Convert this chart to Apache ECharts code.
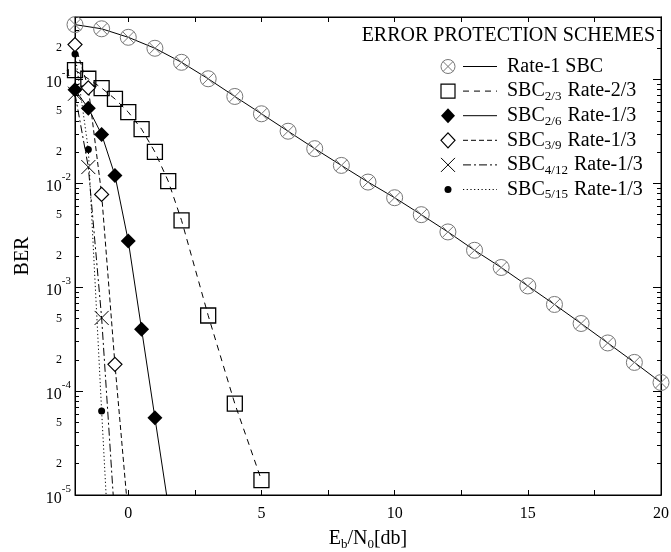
<!DOCTYPE html>
<html>
<head>
<meta charset="utf-8">
<script src="https://cdn.jsdelivr.net/npm/echarts@6/dist/echarts.min.js"></script>
<style>
  html, body { margin: 0; padding: 0; background: #fff; }
  #chart { width: 671px; height: 552px; }
</style>
</head>
<body>
<div id="chart"></div>
<script>
const FONT = '"Liberation Serif", "Times New Roman", serif';

// Eb/N0 [dB] and BER values
const ebn0Rate1 = [-2, -1, 0, 1, 2, 3, 4, 5, 6, 7, 8, 9, 10, 11, 12, 13, 14, 15, 16, 17, 18, 19, 20];
const berRate1 = [0.338, 0.308, 0.255, 0.200, 0.1465, 0.1017, 0.0687, 0.0468, 0.0318, 0.0216, 0.0149, 0.0103,
  0.00728, 0.00500, 0.00341, 0.00227, 0.00155, 0.00103, 0.000683, 0.000448, 0.000291, 0.000189, 0.000121];

const ebn0Sbc23 = [-2, -1.5, -1, -0.5, 0, 0.5, 1, 1.5, 2, 3, 4, 5];
const berSbc23 = [0.123, 0.1017, 0.0828, 0.0651, 0.0486, 0.0333, 0.0201, 0.01052, 0.00441, 0.000535, 0.0000757, 0.0000139];

const ebn0Sbc26 = [-2, -1.5, -1, -0.5, 0, 0.5, 1, 1.5];
const berSbc26 = [0.0796, 0.0530, 0.0296, 0.01194, 0.00279, 0.000394, 0.0000554, 0.0000079];

const ebn0Sbc39 = [-2, -1.5, -1, -0.5, 0];
const berSbc39 = [0.217, 0.0832, 0.00783, 0.000181, 0.0000063];

const ebn0Sbc412 = [-2, -1.5, -1, -0.5];
const berSbc412 = [0.0730, 0.01436, 0.000507, 0.0000055];

const ebn0Sbc515 = [-2, -1.5, -1, -0.5];
const berSbc515 = [0.1766, 0.0212, 0.0000643, 0.00000025];

// axis ticks / labels
const xLabelValues = [0, 5, 10, 15, 20];
const xTickValues = [0, 2.5, 5, 7.5, 10, 12.5, 15, 17.5];
const yDecades = [1e-5, 1e-4, 1e-3, 1e-2, 1e-1];
const yMinorLabelValues = [2e-5, 5e-5, 2e-4, 5e-4, 2e-3, 5e-3, 2e-2, 5e-2, 2e-1];
const yMinorTicks = [];
yDecades.forEach(d => {
  for (let k = 2; k <= 9; k++) {
    if (k * d < 0.4) yMinorTicks.push(k * d);
  }
});

// legend
const legendTitle = 'ERROR PROTECTION SCHEMES';
const legendLabels = [
  '{n|Rate-1 SBC}',
  '{n|SBC}{s|2/3}{n| Rate-2/3}',
  '{n|SBC}{s|2/6}{n| Rate-1/3}',
  '{n|SBC}{s|3/9}{n| Rate-1/3}',
  '{n|SBC}{s|4/12}{n| Rate-1/3}',
  '{n|SBC}{s|5/15}{n| Rate-1/3}'
];

const CROSS_CIRCLE = 'path://M10,0A10,10,0,1,1,10,20A10,10,0,1,1,10,0ZM2.93,2.93L17.07,17.07M17.07,2.93L2.93,17.07';
const CROSS = 'path://M0,0L20,20M20,0L0,20';

const DASHES = {
  solid: 'solid',
  dashed: [6, 5],
  shortDash: [5, 3],
  dashDot: [8, 3, 2, 3],
  dotted: [1.2, 2.5]
};

function pairs(xs, ys) {
  return xs.map((x, i) => [x, ys[i]]);
}

function lineSeries(name, xs, ys, opt) {
  return {
    name: name,
    type: 'line',
    data: pairs(xs, ys),
    symbol: opt.symbol,
    symbolSize: opt.size,
    showAllSymbol: true,
    clip: true,
    lineStyle: { color: '#000', width: 1, type: opt.dash },
    itemStyle: opt.item,
    z: opt.z || 2,
    animation: false
  };
}

const series = [
  lineSeries('rate1', ebn0Rate1, berRate1, {
    symbol: CROSS_CIRCLE, size: 16, dash: DASHES.solid,
    item: { color: 'rgba(0,0,0,0)', borderColor: '#777', borderWidth: 1 }
  }),
  lineSeries('sbc23', ebn0Sbc23, berSbc23, {
    symbol: 'rect', size: 15, dash: DASHES.dashed,
    item: { color: 'rgba(0,0,0,0)', borderColor: '#000', borderWidth: 1.3 }
  }),
  lineSeries('sbc26', ebn0Sbc26, berSbc26, {
    symbol: 'diamond', size: 15, dash: DASHES.solid,
    item: { color: '#000', borderColor: '#000', borderWidth: 0 }
  }),
  lineSeries('sbc39', ebn0Sbc39, berSbc39, {
    symbol: 'diamond', size: 14, dash: DASHES.shortDash,
    item: { color: '#fff', borderColor: '#000', borderWidth: 1.2 }, z: 3
  }),
  lineSeries('sbc412', ebn0Sbc412, berSbc412, {
    symbol: CROSS, size: 14, dash: DASHES.dashDot,
    item: { color: 'rgba(0,0,0,0)', borderColor: '#000', borderWidth: 1 }
  }),
  lineSeries('sbc515', ebn0Sbc515, berSbc515, {
    symbol: 'circle', size: 7, dash: DASHES.dotted,
    item: { color: '#000', borderWidth: 0 }
  })
];

// legend drawn as graphic
const LX = 448, LY0 = 66.5, LDY = 24.6;
const legendLines = [DASHES.solid, DASHES.dashed, DASHES.solid, DASHES.shortDash, DASHES.dashDot, DASHES.dotted];
const graphics = [{
  type: 'text', right: 16, top: 26,
  style: { text: legendTitle, font: '20px ' + FONT, fill: '#000' }
}];
legendLabels.forEach((lab, i) => {
  const y = LY0 + i * LDY;
  let sym;
  if (i === 0) {
    sym = [
      { type: 'circle', shape: { cx: LX, cy: y, r: 7 }, style: { fill: 'none', stroke: '#777', lineWidth: 1 } },
      { type: 'line', shape: { x1: LX - 5, y1: y - 5, x2: LX + 5, y2: y + 5 }, style: { stroke: '#777', lineWidth: 1 } },
      { type: 'line', shape: { x1: LX + 5, y1: y - 5, x2: LX - 5, y2: y + 5 }, style: { stroke: '#777', lineWidth: 1 } }
    ];
  } else if (i === 1) {
    sym = [{ type: 'rect', shape: { x: LX - 7, y: y - 7, width: 14, height: 14 }, style: { fill: 'none', stroke: '#000', lineWidth: 1.2 } }];
  } else if (i === 2 || i === 3) {
    sym = [{
      type: 'polygon',
      shape: { points: [[LX, y - 7.5], [LX + 7, y], [LX, y + 7.5], [LX - 7, y]] },
      style: i === 2 ? { fill: '#000' } : { fill: '#fff', stroke: '#000', lineWidth: 1.2 }
    }];
  } else if (i === 4) {
    sym = [
      { type: 'line', shape: { x1: LX - 7, y1: y - 7, x2: LX + 7, y2: y + 7 }, style: { stroke: '#000', lineWidth: 1 } },
      { type: 'line', shape: { x1: LX + 7, y1: y - 7, x2: LX - 7, y2: y + 7 }, style: { stroke: '#000', lineWidth: 1 } }
    ];
  } else {
    sym = [{ type: 'circle', shape: { cx: LX, cy: y, r: 3.5 }, style: { fill: '#000' } }];
  }
  sym.forEach(s => graphics.push(s));
  graphics.push({
    type: 'line', shape: { x1: 463, y1: y, x2: 497, y2: y },
    style: { stroke: '#000', lineWidth: 1, lineDash: legendLines[i] === 'solid' ? null : legendLines[i] }
  });
  graphics.push({
    type: 'text', x: 507, y: y,
    style: {
      text: lab, fill: '#000', verticalAlign: 'middle',
      rich: {
        n: { font: '20px ' + FONT, lineHeight: 24, verticalAlign: 'middle' },
        s: { font: '13px ' + FONT, lineHeight: 24, verticalAlign: 'bottom', padding: [0, 1, 0, 0] }
      }
    }
  });
});

function yLabel(v) {
  const e = Math.floor(Math.log10(v) + 1e-9);
  const m = Math.round(v / Math.pow(10, e));
  if (m === 1) return '{b|10}{s|' + e + '}';
  return '{m|' + m + '}';
}

function yAxisCfg(position, tickValues, tickLen, showLabel) {
  return {
    type: 'log',
    logBase: 10,
    min: 1e-5,
    max: 0.4,
    position: position,
    axisLine: { show: true, onZero: false, lineStyle: { color: '#000', width: 1 } },
    axisTick: { show: true, inside: true, length: tickLen, customValues: tickValues, lineStyle: { color: '#000', width: 1 } },
    axisLabel: showLabel ? {
      show: true,
      customValues: yDecades.concat(yMinorLabelValues),
      margin: 4,
      formatter: yLabel,
      rich: {
        b: { fontFamily: FONT, fontSize: 16, color: '#000', lineHeight: 23, verticalAlign: 'bottom' },
        s: { fontFamily: FONT, fontSize: 11, color: '#000', lineHeight: 12, verticalAlign: 'top' },
        m: { fontFamily: FONT, fontSize: 12, color: '#000', padding: [0, 9, 0, 0] }
      }
    } : { show: false },
    splitLine: { show: false },
    minorTick: { show: false },
    name: showLabel ? 'BER' : '',
    nameLocation: 'middle',
    nameGap: 42,
    nameTextStyle: { fontFamily: FONT, fontSize: 20, color: '#000' }
  };
}

function xAxisCfg(position, showLabel) {
  return {
    type: 'value',
    min: -2,
    max: 20,
    position: position,
    axisLine: { show: true, onZero: false, lineStyle: { color: '#000', width: 1 } },
    axisTick: { show: true, inside: true, length: 5, customValues: xTickValues, lineStyle: { color: '#000', width: 1 } },
    axisLabel: showLabel ? {
      show: true, customValues: xLabelValues, margin: 11,
      fontFamily: FONT, fontSize: 16, color: '#000'
    } : { show: false },
    splitLine: { show: false },
    name: showLabel ? '{n|E}{s|b}{n|/N}{s|0}{n|[db]}' : '',
    nameLocation: 'middle',
    nameGap: 32,
    nameTextStyle: {
      color: '#000',
      rich: {
        n: { fontFamily: FONT, fontSize: 20, color: '#000', lineHeight: 24, verticalAlign: 'middle' },
        s: { fontFamily: FONT, fontSize: 13, color: '#000', lineHeight: 24, verticalAlign: 'bottom' }
      }
    }
  };
}

const chart = echarts.init(document.getElementById('chart'), null, { renderer: 'canvas' });
chart.setOption({
  animation: false,
  backgroundColor: '#fff',
  grid: {
    left: 75, right: 10, top: 17, bottom: 57,
    outerBoundsMode: 'none', containLabel: false,
    show: true, borderColor: '#000', borderWidth: 1, backgroundColor: 'transparent'
  },
  xAxis: [xAxisCfg('bottom', true), xAxisCfg('top', false)],
  yAxis: [
    yAxisCfg('left', yDecades, 8, true),
    yAxisCfg('right', yDecades, 8, false),
    yAxisCfg('left', yMinorTicks, 4, false),
    yAxisCfg('right', yMinorTicks, 4, false)
  ],
  series: series,
  graphic: graphics
});
</script>
</body>
</html>
